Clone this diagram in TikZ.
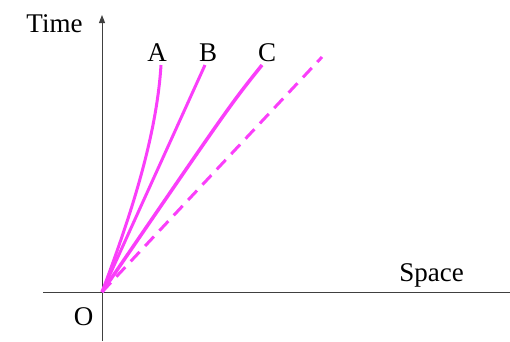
\documentclass[tikz,border=0pt]{standalone}
\usepackage{fontspec}
\setmainfont{Liberation Serif}
\usetikzlibrary{arrows.meta}
\definecolor{pathpink}{RGB}{250,62,250}

\begin{document}
\begin{tikzpicture}[
			x=1pt, y=-1pt,
			>={Triangle[length=8pt, width=6pt]},
			axis/.style={draw=black!75, line width=1pt},
			world/.style={draw=pathpink, line width=3pt},
			light/.style={world, dash pattern=on 13pt off 8pt},
			label_text/.style={font=\fontsize{27}{31}\selectfont, anchor=base, inner sep=0pt}
			]
			\useasboundingbox (0,0) rectangle (510,341);
			
			% Axes
			\coordinate (o) at (102,292);
			\coordinate (tbot) at (102,341);
			\coordinate (ttop) at (102,15);
			\coordinate (sleft) at (43,292);
			\coordinate (sright) at (510,292);
			\draw[axis] (sleft) -- (sright);
			\draw[axis, ->] (tbot) -- (ttop);
			
			% Axis labels
			\node[label_text] (time) at (54.5,32) {Time};
			\node[label_text] (space) at (431.5,281) {Space};
			\node[label_text] (orig) at (83.5,325) {O};
			
			% End points of the paths
			\coordinate (endA) at (161,65);
			\coordinate (endB) at (205,65);
			\coordinate (endC) at (262,65);
			\coordinate (endL) at (322,57);
			
			% Paths
			\draw[world] (o) .. controls (135,205) and (157,130) .. (endA);
			\draw[world] (o) -- (endB);
			\draw[world, line width=3.5pt] (o) .. controls (230,105) .. (endC);
			\draw[light] (o) -- (endL);
			
			% Path labels
			\node[label_text] (lblA) at (157,61) {A};
			\node[label_text] (lblB) at (208,61) {B};
			\node[label_text] (lblC) at (267,61) {C};
			
		\end{tikzpicture}
\end{document}
